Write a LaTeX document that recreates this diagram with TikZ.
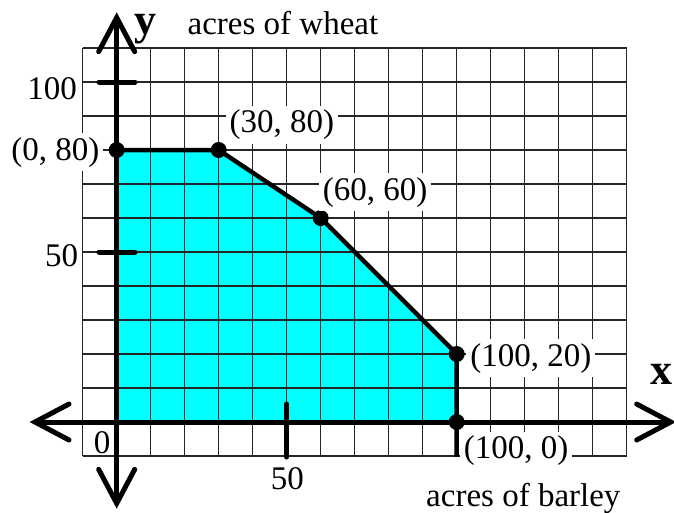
\documentclass[tikz,border=0pt]{standalone}
\usepackage{fontspec}
\setmainfont{Liberation Serif}
\usetikzlibrary{arrows.meta}
\definecolor{aqua}{RGB}{0,255,255}
\tikzset{
  lbl/.style={font=\fontsize{33}{38}\selectfont, inner sep=2pt},
  wlbl/.style={lbl, fill=white, inner sep=4pt},
  axisline/.style={line width=5pt, line cap=round,
    {Straight Barb[length=34pt,width=36pt,line cap=round]}-{Straight Barb[length=34pt,width=36pt,line cap=round]}},
  gridline/.style={line width=1.1pt, black!85},
  bound/.style={line width=4.5pt, line join=round},
  vertex/.style={circle, fill=black, inner sep=0pt, minimum size=16pt},
  tick/.style={line width=5pt, line cap=round},
  axlbl/.style={font=\fontsize{44}{48}\selectfont\bfseries, inner sep=0pt}
}
\begin{document}
\begin{tikzpicture}[x=34pt,y=34pt]
\useasboundingbox (-3.432,-2.647) rectangle (16.391,12.412);
% feasible region
\fill[aqua] (0,0) -- (0,8) -- (3,8) -- (6,6) -- (10,2) -- (10,0) -- cycle;
% grid
\draw[gridline, step=34pt] (-1,-1) grid (15,11);
% axes
\coordinate (xl) at (-2.56,0);
\coordinate (xr) at (16.45,0);
\coordinate (yb) at (0,-2.55);
\coordinate (yt) at (0,12.05);
\draw[axisline] (xl) -- (xr);
\draw[axisline] (yb) -- (yt);
% ticks
\coordinate (t100a) at (-0.52,10); \coordinate (t100b) at (0.54,10);
\coordinate (t50a) at (-0.52,5); \coordinate (t50b) at (0.54,5);
\coordinate (tx50a) at (5,0.53); \coordinate (tx50b) at (5,-1.03);
\draw[tick] (t100a) -- (t100b);
\draw[tick] (t50a) -- (t50b);
\draw[tick] (tx50a) -- (tx50b);
% vertices
\node[vertex] (p1) at (0,8) {};
\node[vertex] (p2) at (3,8) {};
\node[vertex] (p3) at (6,6) {};
\node[vertex] (p4) at (10,2) {};
\node[vertex] (p5) at (10,0) {};
\coordinate (p6) at (10,-1.02);
\draw[bound] (p1.center) -- (p2.center) -- (p3.center) -- (p4.center) -- (p5.center) -- (p6);
% labels
\node[wlbl] (l1) at (-1.80,7.93) {(0, 80)};
\node[wlbl] (l2) at (4.86,8.74) {(30, 80)};
\node[wlbl] (l3) at (7.60,6.76) {(60, 60)};
\node[wlbl] (l4) at (12.18,1.88) {(100, 20)};
\node[wlbl] (l5) at (11.75,-0.84) {(100, 0)};
\node[lbl] (n100) at (-1.90,9.80) {100};
\node[lbl] (n50y) at (-1.62,4.88) {50};
\node[lbl] (n0) at (-0.43,-0.62) {0};
\node[lbl] (n50x) at (5.02,-1.66) {50};
\node[lbl] (bar) at (11.96,-2.24) {acres of barley};
\node[lbl] (whe) at (4.89,11.74) {acres of wheat};
\node[axlbl] (ylab) at (0.86,11.55) {y};
\node[axlbl] (xlab) at (16.02,1.40) {x};
\end{tikzpicture}
\end{document}
